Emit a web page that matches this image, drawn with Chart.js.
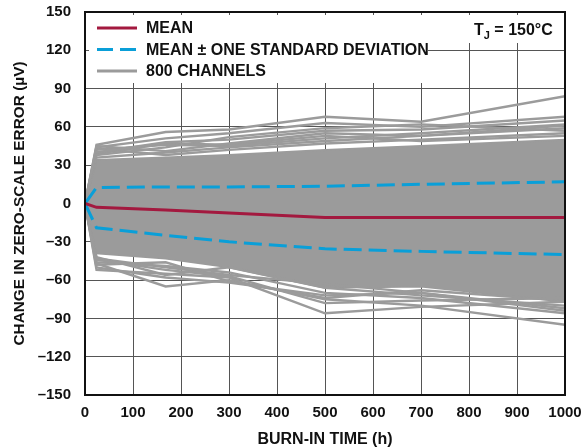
<!DOCTYPE html>
<html>
<head>
<meta charset="utf-8">
<script src="https://cdn.jsdelivr.net/npm/chart.js@4.4.1/dist/chart.umd.min.js"></script>
<style>
  html, body { margin: 0; padding: 0; background: #fff; }
  #wrap { width: 587px; height: 448px; position: relative; }
</style>
</head>
<body>
<div id="wrap"><canvas id="zsChart"></canvas></div>
<script>
// burn-in sample times (h)
const hours = [0, 24, 168, 300, 500, 700, 1000];

// mean and mean ± 1 sigma (µV)
const meanVals  = [0, -3, -5, -7.5, -11, -11, -11];
const sdUpper   = [0, 12.5, 13, 13, 13.5, 15, 17];
const sdLower   = [0, -19, -25, -30, -35.5, -37.5, -40];

// dense body of the 800 channels (edges of the solid gray region)
const bandTop    = [0, 34, 36, 38, 42, 45, 50];
const bandBottom = [0, -39, -43, -50, -66, -65, -77];

// channels visible outside the dense body
const channelsHigh = [
  [0, 46, 56, 58, 68, 64, 84],
  [0, 44, 51, 55, 63, 60, 68],
  [0, 45, 41, 47, 55, 53, 61],
  [0, 40, 48, 50, 57, 58, 65],
  [0, 38, 44, 52, 59, 62, 57],
  [0, 42, 46, 45, 51, 55, 62],
  [0, 36, 40, 44, 49, 53, 59],
  [0, 43, 38, 42, 47, 50, 55],
  [0, 39, 47, 46, 53, 49, 53]
];
const channelsLow = [
  [0, -52, -55, -58, -86, -81, -77],
  [0, -47, -65, -60, -75, -80, -95],
  [0, -50, -58, -62, -72, -70, -82],
  [0, -44, -52, -57, -78, -76, -74],
  [0, -46, -49, -54, -70, -74, -86],
  [0, -42, -56, -50, -66, -72, -80],
  [0, -48, -46, -61, -74, -68, -76],
  [0, -43, -50, -56, -63, -70, -84]
];

const legendLabels = ["MEAN", "MEAN \u00B1 ONE STANDARD DEVIATION", "800 CHANNELS"];

const GRAY = "#9b9b9b";
const RED = "#a3193f";
const BLUE = "#0a9fd8";
const FONT = "'Liberation Sans', Arial, sans-serif";

const pts = ys => ys.map((y, i) => ({ x: hours[i], y }));

const grayLine = ys => ({
  data: pts(ys), borderColor: GRAY, borderWidth: 2.4, pointRadius: 0,
  fill: false, order: 3
});

const datasets = [
  { data: pts(meanVals), borderColor: RED, borderWidth: 3, pointRadius: 0, fill: false, order: 0 },
  { data: pts(sdUpper), borderColor: BLUE, borderWidth: 3, borderDash: [18, 7], pointRadius: 0, fill: false, order: 1 },
  { data: pts(sdLower), borderColor: BLUE, borderWidth: 3, borderDash: [18, 7], pointRadius: 0, fill: false, order: 1 },
  ...channelsHigh.map(grayLine),
  ...channelsLow.map(grayLine),
  { data: pts(bandTop), borderColor: GRAY, borderWidth: 2, pointRadius: 0, backgroundColor: GRAY, fill: "+1", order: 4 },
  { data: pts(bandBottom), borderColor: GRAY, borderWidth: 2, pointRadius: 0, fill: false, order: 5 }
];

// white boxes behind legend / T_J label, then the legend itself
const overlay = {
  id: "overlay",
  beforeDatasetsDraw(chart) {
    const ctx = chart.ctx;
    ctx.save();
    ctx.fillStyle = "#fff";
    ctx.fillRect(89, 15, 339, 68);
    ctx.fillRect(437, 15, 125, 28);
    ctx.restore();
  },
  afterDatasetsDraw(chart) {
    const ctx = chart.ctx;
    ctx.save();
    const rows = [28, 49.5, 71];
    const styles = [[RED, []], [BLUE, [16, 7]], [GRAY, []]];
    rows.forEach((y, i) => {
      ctx.beginPath();
      ctx.strokeStyle = styles[i][0];
      ctx.lineWidth = 3;
      ctx.setLineDash(styles[i][1]);
      ctx.moveTo(97, y);
      ctx.lineTo(137, y);
      ctx.stroke();
    });
    ctx.setLineDash([]);
    ctx.fillStyle = "#111";
    ctx.font = "bold 16px " + FONT;
    ctx.textBaseline = "middle";
    ctx.textAlign = "left";
    rows.forEach((y, i) => ctx.fillText(legendLabels[i], 146, y + 1));

    // T_J = 150°C
    let x = 474;
    ctx.fillText("T", x, 31);
    x += ctx.measureText("T").width;
    ctx.font = "bold 11px " + FONT;
    ctx.fillText("J", x, 36);
    x += ctx.measureText("J").width;
    ctx.font = "bold 16px " + FONT;
    ctx.fillText(" = 150\u00B0C", x, 31);
    ctx.restore();
  }
};

const dash = v => String(v).replace("-", "\u2013");

new Chart(document.getElementById("zsChart").getContext("2d"), {
  type: "line",
  data: { datasets },
  options: {
    responsive: true, maintainAspectRatio: false, animation: false,
    layout: { padding: { left: 0, right: 22, top: 12, bottom: 0 } },
    plugins: { legend: { display: false }, tooltip: { enabled: false } },
    elements: { line: { tension: 0 } },
    scales: {
      x: {
        type: "linear", min: 0, max: 1000,
        afterFit: s => { s.height = 53; s.paddingLeft = 0; s.paddingRight = 0; },
        ticks: { stepSize: 100, color: "#111", padding: 9, callback: v => String(v),
                 font: { family: FONT, size: 15, weight: "bold" } },
        grid: { color: "#555", lineWidth: 1, drawTicks: false },
        border: { color: "#111", width: 2 },
        title: { display: true, text: "BURN-IN TIME (h)", color: "#111", padding: { top: 0, bottom: 0 },
                 font: { family: FONT, size: 16, weight: "bold", lineHeight: 1 } }
      },
      y: {
        min: -150, max: 150,
        afterFit: s => { s.width = 85; s.paddingTop = 0; s.paddingBottom = 0; },
        ticks: { stepSize: 30, color: "#111", padding: 14, callback: v => dash(v),
                 font: { family: FONT, size: 15, weight: "bold" } },
        grid: { color: "#555", lineWidth: 1, drawTicks: false },
        border: { color: "#111", width: 2 },
        title: { display: true, text: "CHANGE IN ZERO-SCALE ERROR (\u00B5V)", color: "#111", padding: { top: 12, bottom: 0 },
                 font: { family: FONT, size: 15.4, weight: "bold", lineHeight: 1 } }
      }
    }
  },
  plugins: [overlay, {
    id: "frame",
    afterDraw(chart) {
      const a = chart.chartArea, ctx = chart.ctx;
      ctx.save();
      ctx.strokeStyle = "#111";
      ctx.lineWidth = 2;
      ctx.strokeRect(a.left, a.top, a.right - a.left, a.bottom - a.top);
      ctx.restore();
    }
  }]
});
</script>
</body>
</html>
